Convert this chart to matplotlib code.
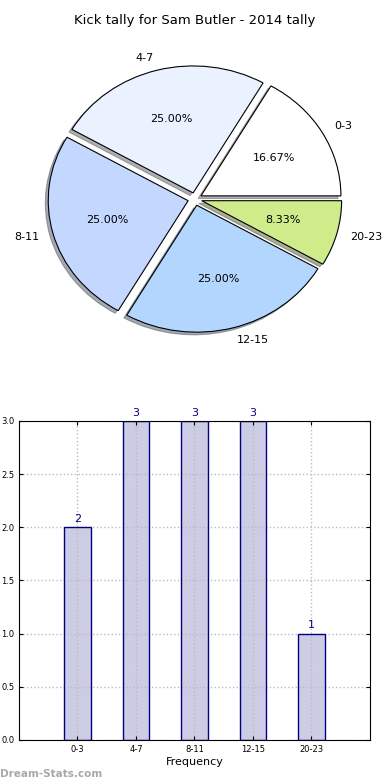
import matplotlib
matplotlib.use("Agg")
import matplotlib.pyplot as plt

title = "Kick tally for Sam Butler - 2014 tally"
labels = ["0-3", "4-7", "8-11", "12-15", "20-23"]
counts = [2, 3, 3, 3, 1]
pie_colors = ["#FFFFFF", "#EAF1FF", "#C4D7FF", "#B3D6FF", "#CFEB8A"]
explode = [0.05, 0.05, 0.05, 0.05, 0.05]

fig = plt.figure(figsize=(3.9, 7.8), dpi=100)

# pie
ax1 = fig.add_axes([0.0513, 0.5413, 0.897, 0.407])
ax1.pie(counts, labels=labels, colors=pie_colors, explode=explode,
        autopct="%.2f%%", startangle=0,
        shadow=dict(ox=-0.015, oy=-0.015, shade=0.6),
        wedgeprops=dict(edgecolor="black", linewidth=0.8),
        textprops=dict(fontsize=8))
ax1.set_aspect("auto")
ax1.set_xlim(-1.25, 1.25)
ax1.set_ylim(-1.25, 1.25)
ax1.set_title(title, fontsize=9.5, pad=12)

# bars
ax2 = fig.add_axes([0.0487, 0.0513, 0.9, 0.409])
pos = list(range(1, len(labels) + 1))
ax2.bar(pos, counts, width=0.45, color="#CCCCE5", linewidth=0, zorder=1)
# outlines drawn above the grid
ax2.bar(pos, counts, width=0.45, fill=False, edgecolor="navy", linewidth=1, zorder=4)
for p, c in zip(pos, counts):
    ax2.text(p, c + 0.03, str(c), ha="center", va="bottom", color="navy", fontsize=8)
ax2.set_xlim(0, 6)
ax2.set_ylim(0, 3.0)
ax2.set_xticks(pos)
ax2.set_xticklabels(labels)
ax2.set_yticks([0, 0.5, 1.0, 1.5, 2.0, 2.5, 3.0])
ax2.tick_params(labelsize=6, direction="in", top=True, right=True, length=3)
ax2.set_xlabel("Frequency", fontsize=8, labelpad=2)
ax2.grid(True, linestyle=":", color="#BBBBBB", linewidth=1.0)
ax2.set_axisbelow(False)
for s in ax2.spines.values():
    s.set_zorder(5)

fig.text(0.0, 0.004, "Dream-Stats.com", fontsize=7.5, color="#A8A8A8", fontweight="bold")

fig.savefig("out.png", dpi=100)
